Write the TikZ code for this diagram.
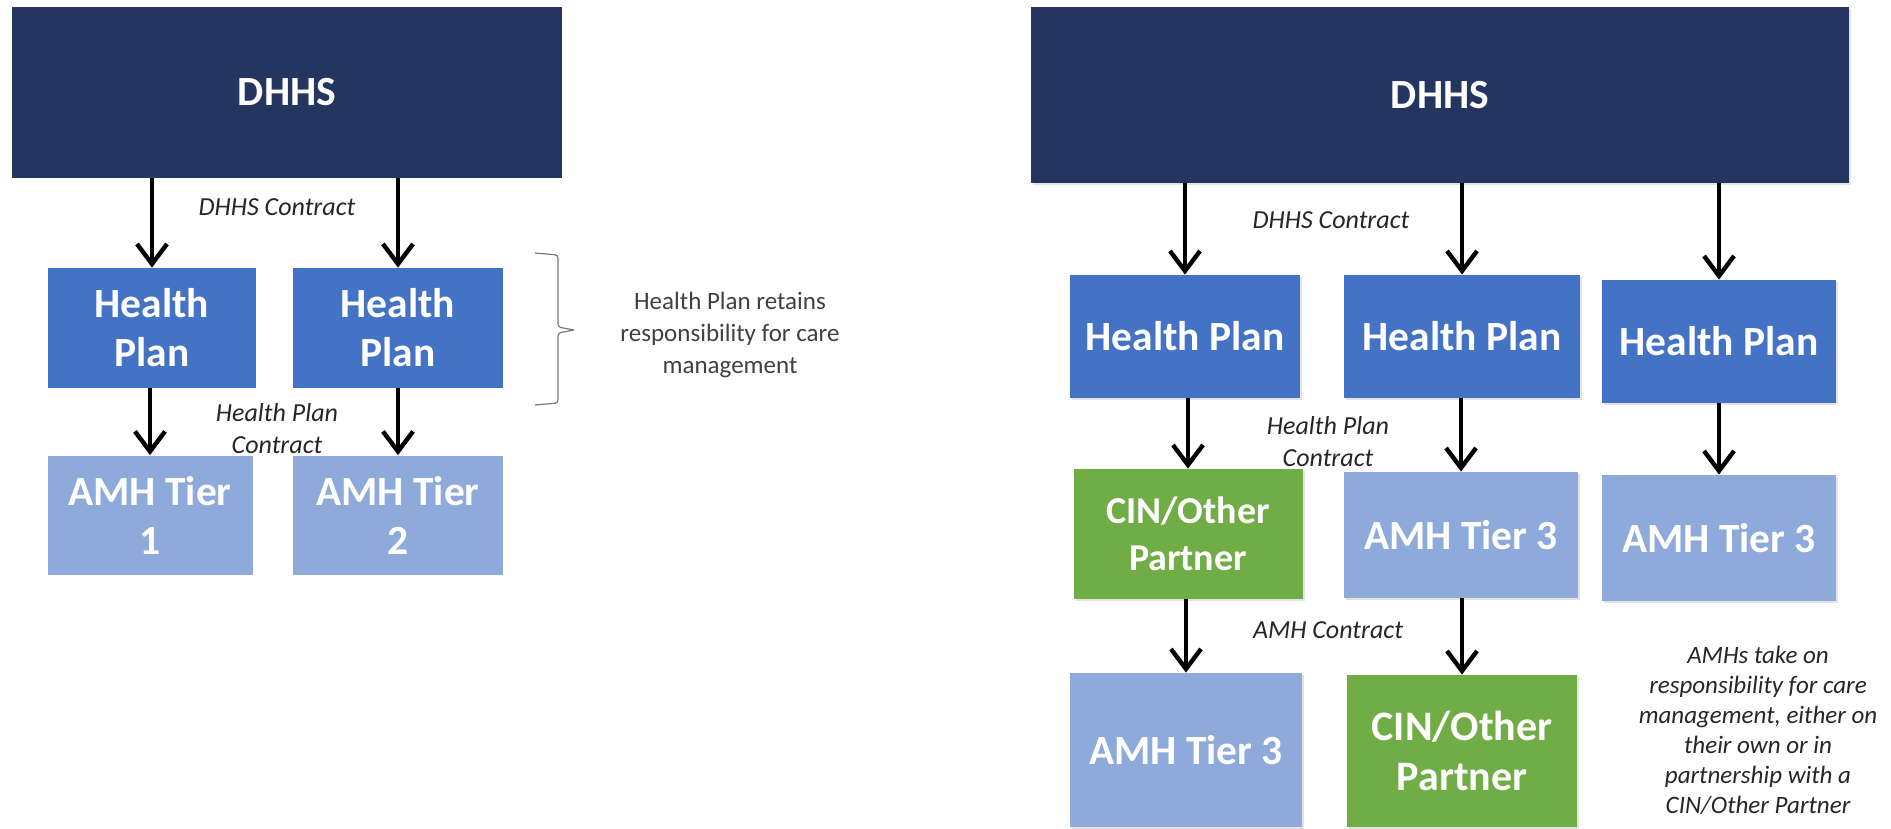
\documentclass[tikz,border=0pt]{standalone}
\usepackage{fontspec}
\setmainfont{Carlito}
\usetikzlibrary{arrows.meta,shadows}

\definecolor{dhhsnavy}{HTML}{243660}
\definecolor{planblue}{HTML}{4472C4}
\definecolor{amhblue}{HTML}{8EAADB}
\definecolor{cingreen}{HTML}{70AD47}
\definecolor{notegrey}{HTML}{404040}

\tikzset{
  wh/.style 2 args={minimum width=#1*0.5pt, minimum height=#2*0.5pt},
  orgbox/.style={inner sep=0pt, align=center, text=white,
    font=\bfseries\fontsize{20.75}{24.5}\selectfont},
  dhhsbox/.style={orgbox, fill=dhhsnavy},
  planbox/.style={orgbox, fill=planblue},
  amhbox/.style={orgbox, fill=amhblue},
  cinbox/.style={orgbox, fill=cingreen},
  softshadow/.style={drop shadow={shadow xshift=1.2pt, shadow yshift=-1.2pt, opacity=0.22}},
  contract/.style={align=center, text=black!85, font=\itshape\fontsize{13}{16}\selectfont},
  arr/.style={line width=2.2pt, -{Straight Barb[length=10pt,width=15pt,line width=2.2pt]}},
  brk/.style={notegrey!70, line width=0.6pt, rounded corners=1.5pt}
}

\begin{document}
\begin{tikzpicture}[x=0.5pt, y=-0.5pt]
\useasboundingbox (0,0) rectangle (1891,829);

% health plan keeps care management
\node (dhhsL) at (287,92.5) [dhhsbox, wh={550}{171}] {DHHS};
\node (hpL1) at (152,328) [planbox, wh={208}{120}] {Health\\Plan};
\node (hpL2) at (398,328) [planbox, wh={210}{120}] {Health\\Plan};
\node (amhL1) at (150,515) [amhbox, wh={205}{119}] {AMH Tier\\1};
\node (amhL2) at (398,515) [amhbox, wh={210}{119}] {AMH Tier\\2};

\draw[arr] (dhhsL.south -| hpL1) -- (hpL1);
\draw[arr] (dhhsL.south -| hpL2) -- (hpL2);
\draw[arr] (hpL1.south -| amhL1) -- (amhL1);
\draw[arr] (hpL2.south -| amhL2) -- (amhL2);

\node (dhhsconL) at (277,207) [contract] {DHHS Contract};
\node (hpconL) at (277,429) [contract] {Health Plan\\Contract};

\draw[brk] (535,253) -- (558,255) -- (558,327) -- (574,330);
\draw[brk] (535,405) -- (558,403) -- (558,333) -- (574,330);
\node (noteL) at (730,335) [align=center, text=notegrey,
  font=\fontsize{12.5}{16}\selectfont]
  {Health Plan retains\\responsibility for care\\management};

% AMHs take on care management
\node (dhhsR) at (1440,95) [dhhsbox, softshadow, wh={818}{176}] {DHHS};
\node (hpR1) at (1185,336.5) [planbox, softshadow, wh={230}{123}] {Health Plan};
\node (hpR2) at (1462,336.5) [planbox, softshadow, wh={236}{123}] {Health Plan};
\node (hpR3) at (1719,341.5) [planbox, softshadow, wh={234}{123}] {Health Plan};
\node (cinR1) at (1188,534) [cinbox, softshadow, wh={229}{130},
  font=\bfseries\fontsize{19}{23.5}\selectfont] {CIN/Other\\Partner};
\node (amhR2) at (1461,535) [amhbox, softshadow, wh={234}{126}] {AMH Tier 3};
\node (amhR3) at (1719,538) [amhbox, softshadow, wh={234}{126}] {AMH Tier 3};
\node (amhR1) at (1186,750) [amhbox, softshadow, wh={232}{154}] {AMH Tier 3};
\node (cinR2) at (1462,751) [cinbox, softshadow, wh={230}{152},
  font=\bfseries\fontsize{21}{25}\selectfont] {CIN/Other\\Partner};

\draw[arr] (dhhsR.south -| hpR1) -- (hpR1);
\draw[arr] (dhhsR.south -| hpR2) -- (hpR2);
\draw[arr] (dhhsR.south -| hpR3) -- (hpR3);
\draw[arr] (hpR1.south -| cinR1) -- (cinR1);
\draw[arr] (hpR2.south -| amhR2) -- (amhR2);
\draw[arr] (hpR3.south -| amhR3) -- (amhR3);
\draw[arr] (cinR1.south -| amhR1) -- (amhR1);
\draw[arr] (amhR2.south -| cinR2) -- (cinR2);

\node (dhhsconR) at (1331,220) [contract] {DHHS Contract};
\node (hpconR) at (1328,442) [contract] {Health Plan\\Contract};
\node (amhconR) at (1328,630) [contract] {AMH Contract};

\node (noteR) at (1758,730) [align=center, text=black!85,
  font=\itshape\fontsize{12.5}{15}\selectfont]
  {AMHs take on\\responsibility for care\\management, either on\\their own or in\\partnership with a\\CIN/Other Partner};

\end{tikzpicture}
\end{document}
